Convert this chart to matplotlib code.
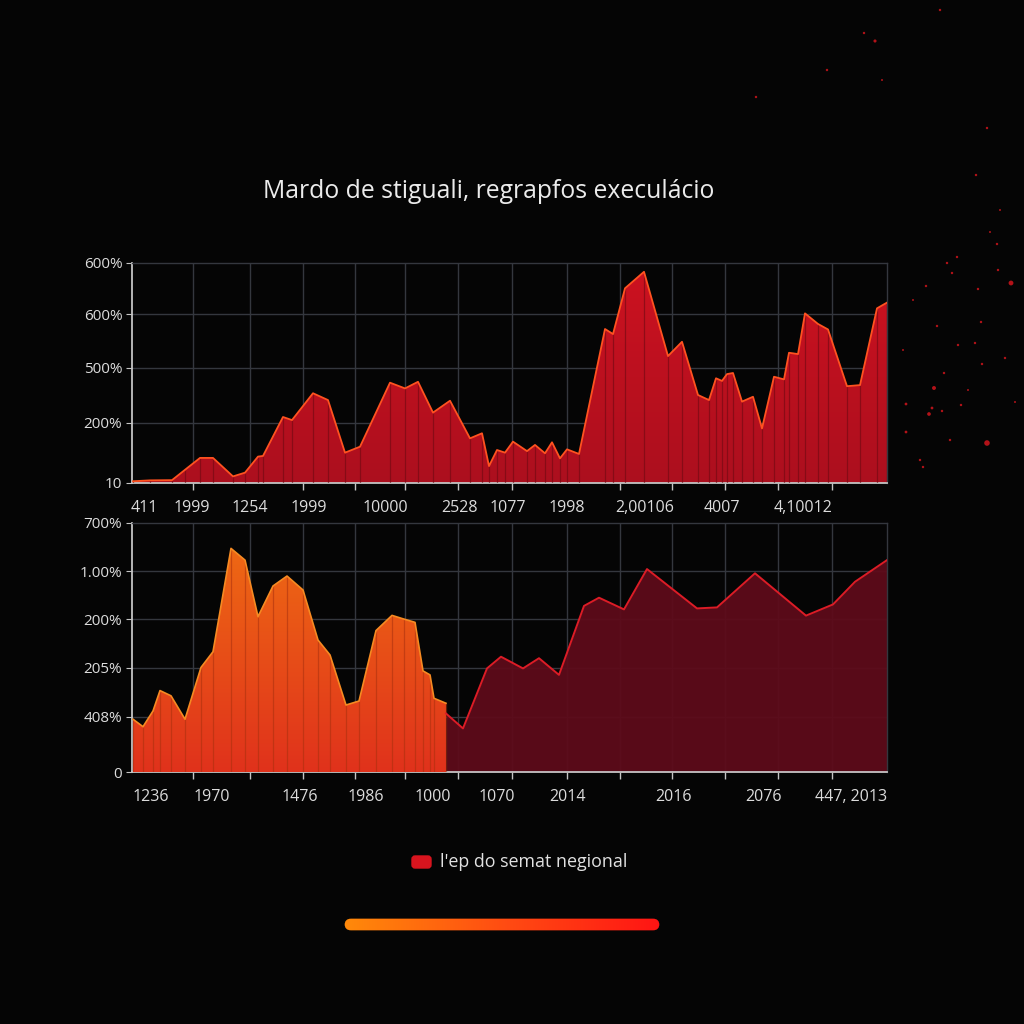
import numpy as np
import matplotlib
matplotlib.use("Agg")
import matplotlib.pyplot as plt
from matplotlib.colors import LinearSegmentedColormap
from matplotlib.patches import FancyBboxPatch

plt.rcParams['font.family'] = ['Open Sans', 'DejaVu Sans']

# --- data ---
TITLE = "Mardo de stiguali, regrapfos execulácio"
LEGEND_LABEL = "l'ep do semat negional"

top_x = [133, 150, 172, 185, 200, 213, 233, 245, 258, 263, 283, 292, 313, 328,
         345, 360, 390, 405, 418, 433, 450, 470, 482, 489, 497, 505, 513, 527,
         535, 545, 552, 560, 567, 579, 605, 613, 625, 644, 668, 682, 698, 709,
         716, 722, 727, 733, 742, 753, 762, 774, 784, 789, 798, 805, 818, 828,
         847, 860, 877, 887]
top_y = [0.8, 1.2, 1.3, 6, 11.4, 11.4, 3, 4.7, 12, 12.3, 30, 28.6, 40.8, 37.7,
         13.8, 16.5, 45.6, 43, 46, 32, 37.4, 20.3, 22.6, 7.7, 15, 13.8, 18.8, 14.5,
         17.3, 13.5, 18.5, 11.2, 15.3, 13.2, 70, 67.7, 88.5, 96, 57.7, 64.2, 40, 37.7,
         47.6, 46.4, 49.5, 50, 37, 39.2, 24.8, 48.3, 47.1, 59.2, 58.6, 77.1, 72.3, 69.8,
         44, 44.5, 79.4, 82]
top_ytick_vals = [0, 27.3, 52.3, 76.8, 100]
top_ytick_labels = ["10", "200%", "500%", "600%", "600%"]
top_xtick_vals = [144, 192, 250, 309, 385, 459, 508, 567, 645, 722, 803]
top_xtick_labels = ["411", "1999", "1254", "1999", "10000", "2528", "1077",
                    "1998", "2,00106", "4007", "4,10012"]

orange_x = [133, 143, 153, 160, 171, 185, 201, 213, 231, 245, 258, 273, 287,
            303, 318, 330, 346, 359, 376, 392, 404, 415, 423, 430, 434, 446]
orange_y = [21.2, 18.2, 24.5, 32.7, 30.6, 21.2, 42, 48.3, 89.8, 85.1, 62.4, 74.7,
            78.7, 73.1, 53, 47, 26.9, 28.5, 56.8, 62.9, 61.4, 60.1, 40.6, 39, 29.6, 27.6]
dark_x = [446, 463, 487, 501, 523, 539, 559, 584, 599, 624, 647, 697, 717, 755,
          806, 833, 855, 887]
dark_y = [23.5, 17.5, 41.6, 46.3, 41.6, 45.7, 39, 66.7, 70, 65.3, 81.5, 65.7,
          66.1, 79.8, 62.8, 67.3, 76.4, 85.1]
bot_ytick_vals = [0, 22.1, 41.8, 61.4, 80.7, 100]
bot_ytick_labels = ["0", "408%", "205%", "200%", "1.00%", "700%"]
bot_xtick_vals = [151, 212, 300, 366, 433, 497, 568, 674, 764, 851]
bot_xtick_labels = ["1236", "1970", "1476", "1986", "1000", "1070", "2014",
                    "2016", "2076", "447, 2013"]

grid_x = [193, 250, 303, 355, 405, 458, 512, 567, 620, 672, 725, 778, 832]

# decorative sparks (figure pixels: x, y from top, size)
spark_x = [875, 827, 756, 864, 940, 882, 987, 976, 1011, 934, 929, 987, 952, 957,
           978, 997, 906, 906, 975, 958, 937, 926, 947, 998, 981, 1005, 932, 942,
           961, 982, 944, 920, 923, 1000, 990, 913, 968, 950, 1015, 903]
spark_y = [41, 70, 97, 33, 10, 80, 128, 175, 283, 388, 414, 443, 273, 257, 289,
           244, 404, 432, 343, 345, 326, 286, 263, 270, 322, 358, 408, 411, 405,
           364, 373, 460, 467, 210, 232, 300, 390, 440, 402, 350]
spark_s = [5, 3, 3, 3, 3, 2, 3, 3, 12, 8, 7, 16, 3, 3, 3, 3, 4, 4, 3, 3, 3, 3, 3,
           3, 3, 3, 4, 3, 3, 3, 3, 3, 3, 2, 2, 2, 2, 3, 2, 2]

BG = "#050505"
GRID = "#34373e"
SPINE = "#c4c4c4"
TXT = "#dcdcdc"


def gradient_fill(ax, x, y, c_top, c_bot, zorder=2, alpha=1.0):
    poly = ax.fill_between(x, 0, y, color="none", lw=0, zorder=zorder)
    cmap = LinearSegmentedColormap.from_list("g", [c_bot, c_top])
    grad = np.linspace(0, 1, 256).reshape(-1, 1)
    im = ax.imshow(grad, cmap=cmap, aspect="auto", origin="lower",
                   extent=[min(x), max(x), 0, max(y)], zorder=zorder, alpha=alpha)
    path = poly.get_paths()[0]
    im.set_clip_path(path, transform=ax.transData)
    return im


def style_axes(ax, ytv, ytl, xtv, xtl):
    ax.set_facecolor(BG)
    ax.set_xlim(132, 887)
    ax.set_ylim(0, 100)
    ax.set_yticks(ytv)
    ax.set_yticklabels(ytl)
    ax.set_xticks(xtv)
    ax.set_xticklabels(xtl)
    ax.set_xticks(grid_x, minor=True)
    for v in ytv[1:-1]:
        ax.axhline(v, color=GRID, lw=1.0, zorder=1)
    for v in grid_x:
        ax.axvline(v, color=GRID, lw=1.0, zorder=1)
    ax.tick_params(axis="x", which="major", length=0, pad=12, colors=TXT, labelsize=11.5)
    ax.tick_params(axis="x", which="minor", length=5, color=SPINE, width=1)
    ax.tick_params(axis="y", length=4, color=SPINE, colors=TXT, labelsize=11, pad=3)
    for side in ["left", "bottom"]:
        ax.spines[side].set_color(SPINE)
        ax.spines[side].set_linewidth(1.3)
    for side in ["top", "right"]:
        ax.spines[side].set_color(GRID)
        ax.spines[side].set_linewidth(1.0)


fig = plt.figure(figsize=(10.24, 10.24), dpi=100, facecolor=BG)

# --- top panel ---
ax1 = fig.add_axes([132 / 1024, 1 - 483 / 1024, 755 / 1024, 220 / 1024])
style_axes(ax1, top_ytick_vals, top_ytick_labels, top_xtick_vals, top_xtick_labels)
gradient_fill(ax1, top_x, top_y, "#cc1220", "#ac0f1e")
ax1.vlines(top_x, 0, top_y, color="#6e0912", lw=0.9, alpha=0.6, zorder=3)
ax1.plot(top_x, top_y, color="#ff5220", lw=1.3, zorder=4)

# --- bottom panel ---
ax2 = fig.add_axes([132 / 1024, 1 - 772 / 1024, 755 / 1024, 249 / 1024])
style_axes(ax2, bot_ytick_vals, bot_ytick_labels, bot_xtick_vals, bot_xtick_labels)
ax2.fill_between(dark_x, 0, dark_y, color="#5e0b1a", lw=0, alpha=0.94, zorder=2)
ax2.plot(dark_x, dark_y, color="#dc1c26", lw=1.4, zorder=4)
gradient_fill(ax2, orange_x, orange_y, "#ee6814", "#e0321c", zorder=3)
ax2.vlines(orange_x, 0, orange_y, color="#a8300e", lw=0.9, alpha=0.55, zorder=3)
ax2.plot(orange_x, orange_y, color="#f68a22", lw=1.2, zorder=4)

# --- title ---
fig.text(489 / 1024, 1 - 192 / 1024, TITLE, ha="center", va="center",
         color="#ececec", fontsize=17.8)

# --- legend ---
fig.patches.append(FancyBboxPatch((412 / 1024, 1 - 868 / 1024), 19 / 1024, 12 / 1024,
                                  boxstyle="round,pad=0,rounding_size=0.003",
                                  transform=fig.transFigure, color="#d8141e"))
fig.text(440 / 1024, 1 - 862 / 1024, LEGEND_LABEL, ha="left", va="center",
         color="#e2e2e2", fontsize=12.9)

# --- gradient bar ---
axb = fig.add_axes([343 / 1024, 1 - 931 / 1024, 318 / 1024, 13 / 1024])
axb.set_axis_off()
axb.set_xlim(0, 1)
axb.set_ylim(0, 1)
bar_cmap = LinearSegmentedColormap.from_list("bar", ["#ff8a0a", "#ff4d12", "#ff1414"])
bim = axb.imshow(np.linspace(0, 1, 256).reshape(1, -1), cmap=bar_cmap, aspect="auto",
                 extent=[0, 1, 0, 1])
clip = FancyBboxPatch((0.005, 0.05), 0.99, 0.9, boxstyle="round,pad=0,rounding_size=0.02",
                      transform=axb.transData, facecolor="none", edgecolor="none",
                      mutation_aspect=25)
axb.add_patch(clip)
bim.set_clip_path(clip)

# --- sparks ---
axs = fig.add_axes([0, 0, 1, 1], zorder=-1)
axs.set_axis_off()
axs.set_xlim(0, 1024)
axs.set_ylim(1024, 0)
axs.scatter(spark_x, spark_y, s=spark_s, color="#e0161e", alpha=0.8, lw=0)
axs.set_facecolor("none")

fig.savefig("out.png", dpi=100, facecolor=BG)
